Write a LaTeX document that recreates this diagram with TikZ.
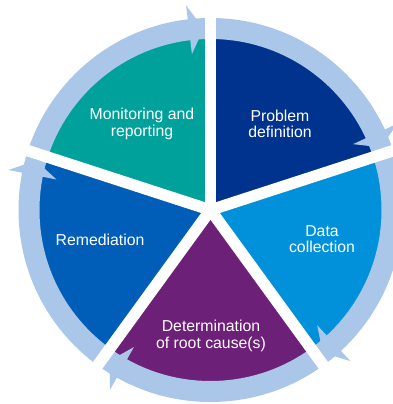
\documentclass[tikz,border=0pt]{standalone}
\usepackage{fontspec}
\setmainfont{Liberation Sans}
\definecolor{cteal}{RGB}{0,161,154}
\definecolor{cnavy}{RGB}{0,51,141}
\definecolor{csky}{RGB}{0,145,218}
\definecolor{cpurple}{RGB}{109,32,119}
\definecolor{ccobalt}{RGB}{0,94,184}
\definecolor{cring}{RGB}{170,198,232}
\tikzset{
  lbl/.style={text=white, align=center, font=\fontsize{15.8}{16.7}\selectfont, inner sep=0pt},
  gapline/.style={white, line width=11.5pt},
  headtip/.style={fill=cring}
}
\begin{document}
\begin{tikzpicture}[x=1pt,y=1pt]
\useasboundingbox (0,0) rectangle (393,404);
\begin{scope}[shift={(210.5,194)}]
  \coordinate (c) at (0,0);
  % sectors
  \fill[cnavy] (c) -- (90:175) arc[start angle=90,end angle=18,radius=175] -- cycle;
  \fill[csky] (c) -- (18:175) arc[start angle=18,end angle=-54,radius=175] -- cycle;
  \fill[cpurple] (c) -- (-54:175) arc[start angle=-54,end angle=-126,radius=175] -- cycle;
  \fill[ccobalt] (c) -- (-126:175) arc[start angle=-126,end angle=-198,radius=175] -- cycle;
  \fill[cteal] (c) -- (162:175) arc[start angle=162,end angle=90,radius=175] -- cycle;
  % ring
  \fill[cring, even odd rule] (c) circle[radius=192] (c) circle[radius=171];
  % arrowheads
  \foreach \g in {90,18,-54,-126,162}{
    \fill[headtip] (\g+6.8:157) -- (\g+2.2:181.5) -- (\g+6.8:206) -- cycle;
  }
  % white gaps
  \foreach \g in {90,18,-54,-126,162}{
    \draw[gapline] (c) -- (\g:215);
  }
\end{scope}
\node[lbl] (mon) at (142,280) {Monitoring and\\reporting};
\node[lbl] (prob) at (280,280) {Problem\\definition};
\node[lbl] (data) at (322,165) {Data\\collection};
\node[lbl] (det) at (211,68) {Determination\\of root cause(s)};
\node[lbl] (rem) at (100,164) {Remediation};
\end{tikzpicture}
\end{document}
